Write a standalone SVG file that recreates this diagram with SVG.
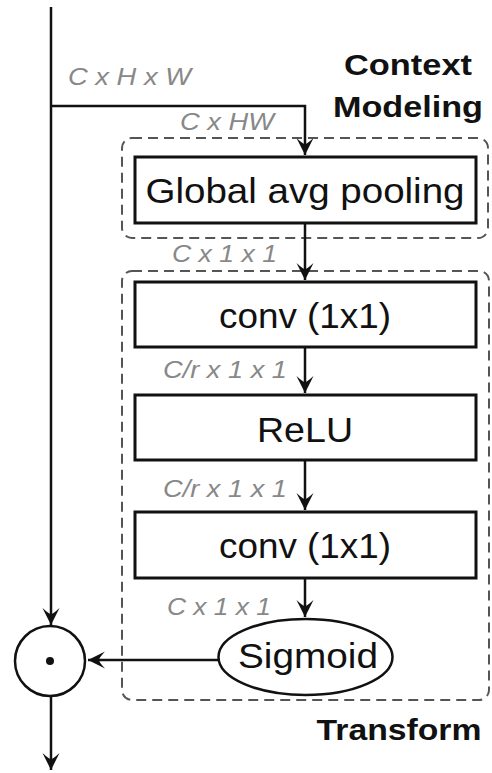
<svg xmlns="http://www.w3.org/2000/svg" width="492" height="773" viewBox="0 0 492 773">
  <style>
    .box { fill: #fff; stroke: #111; stroke-width: 3; }
    .group { fill: none; stroke: #555; stroke-width: 2; stroke-dasharray: 10 6; }
    .line { fill: none; stroke: #111; stroke-width: 2.5; }
    .name { font-family: "Liberation Sans", Arial, sans-serif; font-size: 35px; fill: #111; text-anchor: middle; }
    .dim { font-family: "Liberation Sans", Arial, sans-serif; font-size: 24px; font-style: italic; fill: #888; }
    .title { font-family: "Liberation Sans", Arial, sans-serif; font-size: 29px; font-weight: bold; fill: #111; text-anchor: middle; }
  </style>
  <defs>
    <marker id="arrow" markerUnits="userSpaceOnUse" markerWidth="20" markerHeight="20" refX="0" refY="0" viewBox="-18 -10 20 20" orient="auto">
      <path d="M0,0 L-17,-8.5 Q-11,-2 -11,0 Q-11,2 -17,8.5 Z" fill="#111"/>
    </marker>
  </defs>
  <rect width="492" height="773" fill="#fff"/>

  <!-- dashed group outlines -->
  <rect id="context-group" class="group" x="122" y="138" width="366" height="100" rx="10"/>
  <rect id="transform-group" class="group" x="122" y="271" width="367" height="429" rx="10"/>

  <!-- connectors -->
  <g id="connectors">
    <line class="line" x1="51" y1="7" x2="51" y2="625" marker-end="url(#arrow)"/>
    <polyline class="line" points="51,106 305,106 305,155" marker-end="url(#arrow)"/>
    <line class="line" x1="305" y1="223" x2="305" y2="280" marker-end="url(#arrow)"/>
    <line class="line" x1="305" y1="347" x2="305" y2="393" marker-end="url(#arrow)"/>
    <line class="line" x1="305" y1="460" x2="305" y2="510" marker-end="url(#arrow)"/>
    <line class="line" x1="305" y1="578" x2="305" y2="617" marker-end="url(#arrow)"/>
    <line class="line" x1="218" y1="660" x2="88" y2="660" marker-end="url(#arrow)"/>
    <line class="line" x1="51" y1="696" x2="51" y2="770" marker-end="url(#arrow)"/>
  </g>

  <!-- tensor shape labels -->
  <text class="dim" x="68" y="85" textLength="123" lengthAdjust="spacingAndGlyphs">C x H x W</text>
  <text class="dim" x="180" y="130" textLength="94" lengthAdjust="spacingAndGlyphs">C x HW</text>
  <text class="dim" x="172" y="262" textLength="105" lengthAdjust="spacingAndGlyphs">C x 1 x 1</text>
  <text class="dim" x="163" y="378" textLength="124" lengthAdjust="spacingAndGlyphs">C/r x 1 x 1</text>
  <text class="dim" x="163" y="497" textLength="124" lengthAdjust="spacingAndGlyphs">C/r x 1 x 1</text>
  <text class="dim" x="167" y="615" textLength="104" lengthAdjust="spacingAndGlyphs">C x 1 x 1</text>

  <!-- nodes -->
  <g id="pooling">
    <rect class="box" x="135" y="157" width="341" height="66"/>
    <text class="name" x="305" y="203" textLength="319" lengthAdjust="spacingAndGlyphs">Global avg pooling</text>
  </g>
  <g id="conv1">
    <rect class="box" x="135" y="282" width="341" height="65"/>
    <text class="name" x="305" y="328" textLength="172" lengthAdjust="spacingAndGlyphs">conv (1x1)</text>
  </g>
  <g id="relu">
    <rect class="box" x="135" y="395" width="341" height="65"/>
    <text class="name" x="305" y="442" textLength="96" lengthAdjust="spacingAndGlyphs">ReLU</text>
  </g>
  <g id="conv2">
    <rect class="box" x="135" y="512" width="341" height="66"/>
    <text class="name" x="305" y="558" textLength="172" lengthAdjust="spacingAndGlyphs">conv (1x1)</text>
  </g>
  <g id="sigmoid">
    <ellipse cx="305.5" cy="657" rx="87" ry="38" fill="#fff" stroke="#111" stroke-width="2.5"/>
    <text class="name" x="308" y="668" textLength="140" lengthAdjust="spacingAndGlyphs">Sigmoid</text>
  </g>
  <g id="product">
    <circle cx="50" cy="661" r="35" fill="#fff" stroke="#111" stroke-width="2.5"/>
    <circle cx="50" cy="661" r="4" fill="#111"/>
  </g>

  <!-- group titles -->
  <text class="title" x="408" y="75" textLength="128" lengthAdjust="spacingAndGlyphs">Context</text>
  <text class="title" x="408" y="117" textLength="150" lengthAdjust="spacingAndGlyphs">Modeling</text>
  <text class="title" x="399" y="740" textLength="165" lengthAdjust="spacingAndGlyphs">Transform</text>
</svg>
